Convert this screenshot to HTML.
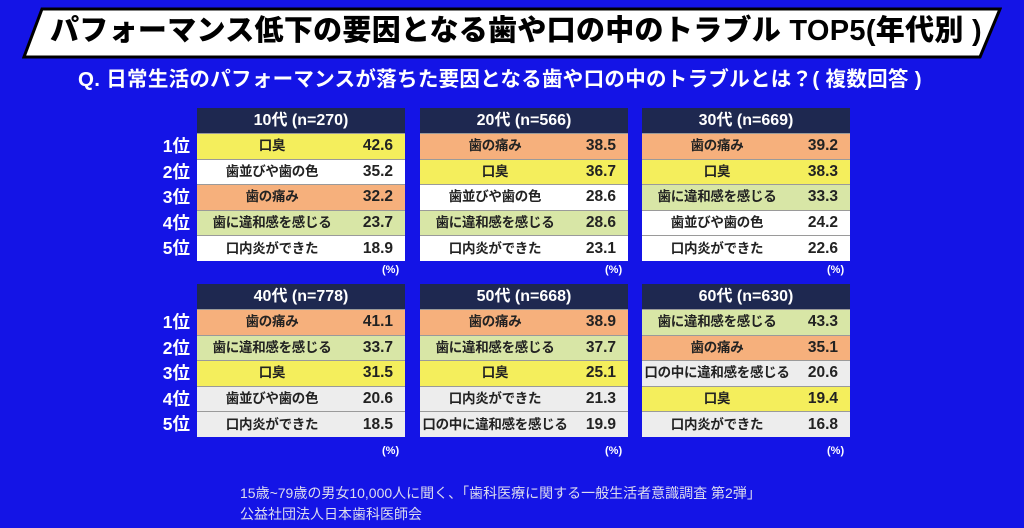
<!DOCTYPE html>
<html><head><meta charset="utf-8"><style>
*{margin:0;padding:0;box-sizing:border-box}
body{width:1024px;height:528px;background:#1414e6;position:relative;overflow:hidden;font-family:"Liberation Sans","Noto Sans CJK JP",sans-serif;}
.banner{position:absolute;left:22px;top:7px;width:980px;height:52px;}
.title{position:absolute;left:50px;top:11px;font-size:29px;line-height:40px;font-weight:900;color:#000;white-space:nowrap;letter-spacing:0.3px}
.q{position:absolute;left:78px;top:66px;font-size:20.5px;line-height:28px;font-weight:700;color:#fff;white-space:nowrap;letter-spacing:0.3px}
.t{position:absolute;width:208px;}
.h{height:25px;background:#1e2850;color:#fff;font-weight:700;font-size:16px;text-align:center;line-height:25px}
.r{height:25.6px;border-top:1px solid #9a9a9a;display:flex;align-items:center;font-weight:700;color:#222;line-height:24px}
.r .l{width:150px;text-align:center;font-size:13.5px;white-space:nowrap;letter-spacing:-0.3px}
.r .n{width:58px;text-align:right;padding-right:12px;font-size:15.5px}
.Y{background:#f4ee5c}.O{background:#f6b07c}.G{background:#d8e6a6}.W{background:#fff}.S{background:#ededed}
.rk{position:absolute;left:148px;width:42px;color:#fff;font-weight:700;font-size:17.5px;line-height:20px;text-align:right}
.pc{position:absolute;color:#fff;font-size:11px;font-weight:700}
.ft{position:absolute;left:240px;color:#dde;font-size:14px;line-height:18px;white-space:nowrap}
</style></head><body>
<svg class="banner" viewBox="0 0 980 52"><polygon points="20,2 978,2 958,50 2,50" fill="#fff" stroke="#000" stroke-width="3"/></svg>
<div class="title">パフォーマンス低下の要因となる歯や口の中のトラブル TOP5(年代別 )</div>
<div class="q">Q. 日常生活のパフォーマンスが落ちた要因となる歯や口の中のトラブルとは？( 複数回答 )</div>

<div class="rk" style="top:136px">1位</div><div class="rk" style="top:162px">2位</div><div class="rk" style="top:187px">3位</div><div class="rk" style="top:213px">4位</div><div class="rk" style="top:238px">5位</div>
<div class="rk" style="top:312px">1位</div><div class="rk" style="top:338px">2位</div><div class="rk" style="top:363px">3位</div><div class="rk" style="top:389px">4位</div><div class="rk" style="top:414px">5位</div>

<div class="t" style="left:197px;top:108px"><div class="h">10代 (n=270)</div>
<div class="r Y"><span class="l">口臭</span><span class="n">42.6</span></div>
<div class="r W"><span class="l">歯並びや歯の色</span><span class="n">35.2</span></div>
<div class="r O"><span class="l">歯の痛み</span><span class="n">32.2</span></div>
<div class="r G"><span class="l">歯に違和感を感じる</span><span class="n">23.7</span></div>
<div class="r W"><span class="l">口内炎ができた</span><span class="n">18.9</span></div></div>

<div class="t" style="left:420px;top:108px"><div class="h">20代 (n=566)</div>
<div class="r O"><span class="l">歯の痛み</span><span class="n">38.5</span></div>
<div class="r Y"><span class="l">口臭</span><span class="n">36.7</span></div>
<div class="r W"><span class="l">歯並びや歯の色</span><span class="n">28.6</span></div>
<div class="r G"><span class="l">歯に違和感を感じる</span><span class="n">28.6</span></div>
<div class="r W"><span class="l">口内炎ができた</span><span class="n">23.1</span></div></div>

<div class="t" style="left:642px;top:108px"><div class="h">30代 (n=669)</div>
<div class="r O"><span class="l">歯の痛み</span><span class="n">39.2</span></div>
<div class="r Y"><span class="l">口臭</span><span class="n">38.3</span></div>
<div class="r G"><span class="l">歯に違和感を感じる</span><span class="n">33.3</span></div>
<div class="r W"><span class="l">歯並びや歯の色</span><span class="n">24.2</span></div>
<div class="r W"><span class="l">口内炎ができた</span><span class="n">22.6</span></div></div>

<div class="t" style="left:197px;top:284px"><div class="h">40代 (n=778)</div>
<div class="r O"><span class="l">歯の痛み</span><span class="n">41.1</span></div>
<div class="r G"><span class="l">歯に違和感を感じる</span><span class="n">33.7</span></div>
<div class="r Y"><span class="l">口臭</span><span class="n">31.5</span></div>
<div class="r S"><span class="l">歯並びや歯の色</span><span class="n">20.6</span></div>
<div class="r S"><span class="l">口内炎ができた</span><span class="n">18.5</span></div></div>

<div class="t" style="left:420px;top:284px"><div class="h">50代 (n=668)</div>
<div class="r O"><span class="l">歯の痛み</span><span class="n">38.9</span></div>
<div class="r G"><span class="l">歯に違和感を感じる</span><span class="n">37.7</span></div>
<div class="r Y"><span class="l">口臭</span><span class="n">25.1</span></div>
<div class="r S"><span class="l">口内炎ができた</span><span class="n">21.3</span></div>
<div class="r S"><span class="l">口の中に違和感を感じる</span><span class="n">19.9</span></div></div>

<div class="t" style="left:642px;top:284px"><div class="h">60代 (n=630)</div>
<div class="r G"><span class="l">歯に違和感を感じる</span><span class="n">43.3</span></div>
<div class="r O"><span class="l">歯の痛み</span><span class="n">35.1</span></div>
<div class="r S"><span class="l">口の中に違和感を感じる</span><span class="n">20.6</span></div>
<div class="r Y"><span class="l">口臭</span><span class="n">19.4</span></div>
<div class="r S"><span class="l">口内炎ができた</span><span class="n">16.8</span></div></div>

<div class="pc" style="left:382px;top:264px">(%)</div><div class="pc" style="left:605px;top:264px">(%)</div><div class="pc" style="left:827px;top:264px">(%)</div>
<div class="pc" style="left:382px;top:445px">(%)</div><div class="pc" style="left:605px;top:445px">(%)</div><div class="pc" style="left:827px;top:445px">(%)</div>

<div class="ft" style="top:484px">15歳~79歳の男女10,000人に聞く、「歯科医療に関する一般生活者意識調査 第2弾」</div>
<div class="ft" style="top:505px">公益社団法人日本歯科医師会</div>
</body></html>
